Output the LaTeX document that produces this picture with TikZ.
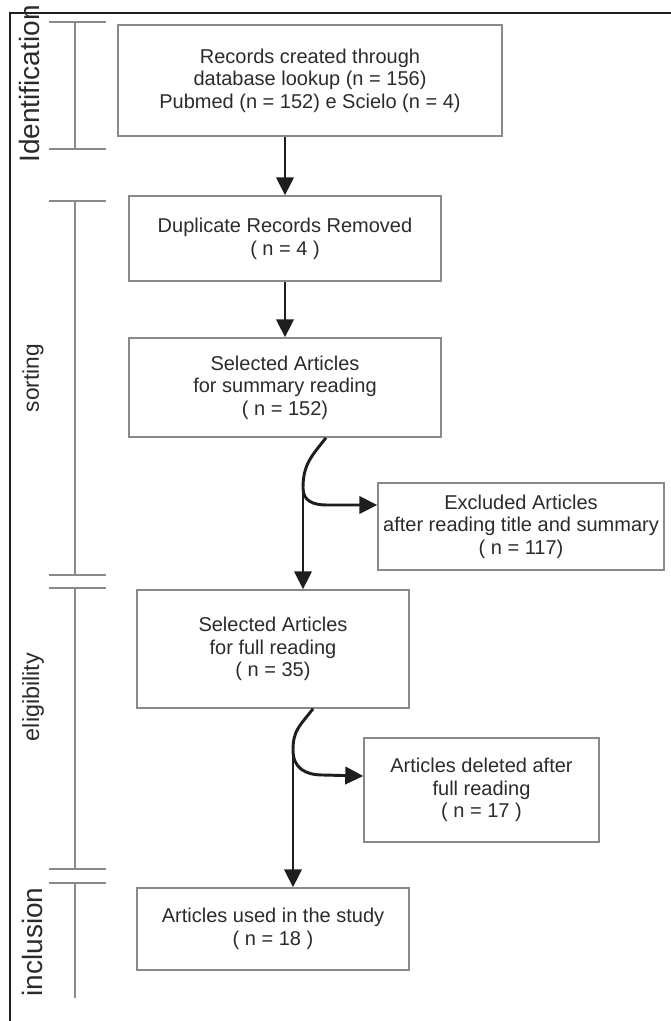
\documentclass[tikz,border=0pt]{standalone}
\usepackage{fontspec}
\setmainfont{Liberation Sans}
\usepackage{xcolor}
\usetikzlibrary{arrows.meta}
\newlength\px
\setlength\px{0.75pt}
\definecolor{framegray}{HTML}{1E1E1E}
\definecolor{rulegray}{HTML}{8A8A8A}
\definecolor{textgray}{HTML}{2B2B2B}

\begin{document}
\begin{tikzpicture}[
        x=0.75pt, y=-0.75pt,
        stage/.style={
            draw=rulegray,
            line width=1.1pt,
            align=center,
            text=textgray,
            inner sep=2pt,
            font=\fontsize{15}{17}\selectfont
        },
        flow/.style={
            -{Triangle[length=13.5pt,width=13pt]},
            line width=2.2pt,
            framegray
        },
        phase/.style={
            rotate=90,
            text=textgray
        },
        bracket/.style={
            draw=rulegray,
            line width=1.1pt
        }
    ]
    \useasboundingbox (0,0) rectangle (671,1021);

    % outer frame, left and top only
    \draw[line width=2pt, framegray] (10,1021) -- (10,13) -- (671,13);

    % phase labels and their brackets
    \node[phase, font=\fontsize{21}{21}\selectfont] (ident) at (29,84) {Identification};
    \node[phase, font=\fontsize{17}{17}\selectfont] (sort) at (33,378) {sorting};
    \node[phase, font=\fontsize{17.5}{18}\selectfont] (elig) at (33,697) {eligibility};
    \node[phase, font=\fontsize{21}{21}\selectfont] (incl) at (32,942) {inclusion};

    \foreach \ya/\yb in {22/149, 201/575, 588/869} {
        \draw[bracket] (49,\ya) -- (106,\ya) (75,\ya) -- (75,\yb) (49,\yb) -- (106,\yb);
    }
    \draw[bracket] (49,883) -- (106,883) (75,883) -- (75,998);

    % main column
    \node[stage, minimum width=384\px, minimum height=111\px] (rec) at (310,80.5)
        {Records created through\\database lookup (n = 156)\\Pubmed (n = 152) e Scielo (n = 4)};
    \node[stage, minimum width=312\px, minimum height=85\px] (dup) at (285,238.5)
        {Duplicate Records Removed\\( n = 4 )};
    \node[stage, minimum width=312\px, minimum height=99\px] (sel1) at (285,387.5)
        {Selected Articles\\for summary reading\\( n = 152)};
    \node[stage, minimum width=272\px, minimum height=118\px] (sel2) at (273,649)
        {Selected Articles\\for full reading\\( n = 35)};
    \node[stage, minimum width=272\px, minimum height=82\px] (used) at (273,929)
        {Articles used in the study\\( n = 18 )};

    % side boxes
    \node[stage, minimum width=286\px, minimum height=87\px] (excl) at (521,526.5)
        {Excluded Articles\\after reading title and summary\\( n = 117)};
    \node[stage, minimum width=235\px, minimum height=104\px] (del) at (481.5,790)
        {Articles deleted after\\full reading\\( n = 17 )};

    \coordinate (fork1) at (303,488);
    \coordinate (fork2) at (293,750);

    \draw[flow] (rec.south -| dup.north) -- (dup.north);
    \draw[flow] (dup.south) -- (sel1.north);

    \draw[line width=2.2pt, framegray] ([xshift=41\px]sel1.south) .. controls +(-14,18) and +(0,-24) .. (fork1);
    \draw[flow] (fork1) -- (fork1 |- sel2.north);
    \draw[flow] (fork1) .. controls +(0,13) and +(-14,0) .. ++(24,17) -- ([yshift=21.5\px]excl.west);

    \draw[line width=2.2pt, framegray] ([xshift=40\px]sel2.south) .. controls +(-13,17) and +(0,-20) .. (fork2);
    \draw[flow] (fork2) -- (fork2 |- used.north);
    \draw[flow] (fork2) .. controls +(0,18) and +(-18,0) .. ++(30,25) -- ([yshift=14\px]del.west);

\end{tikzpicture}
\end{document}
